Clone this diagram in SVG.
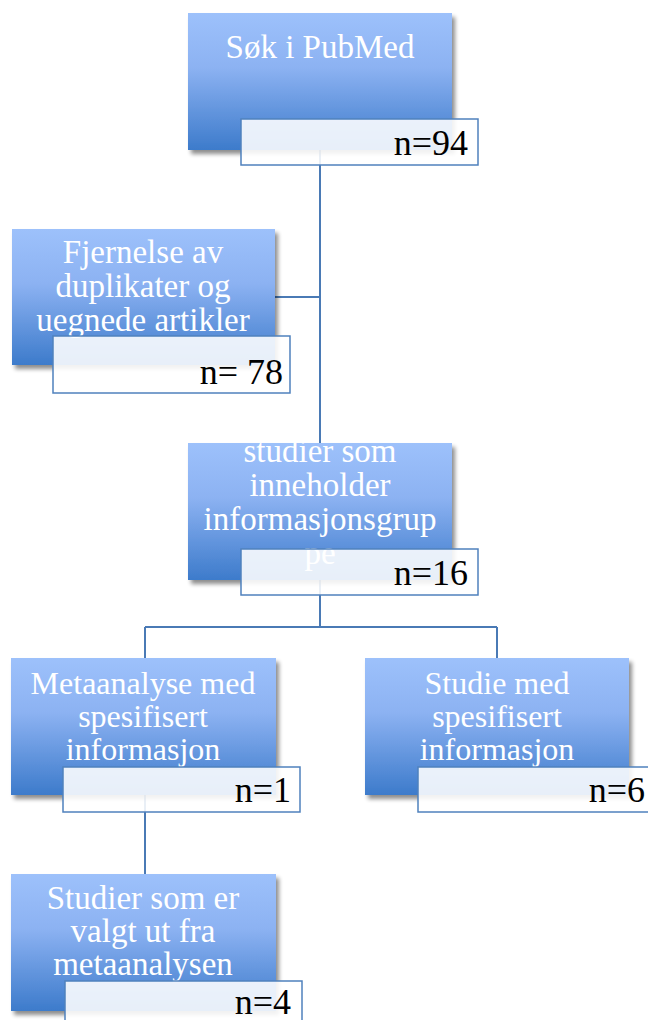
<svg xmlns="http://www.w3.org/2000/svg" width="648" height="1020" viewBox="0 0 648 1020">
<defs>
<linearGradient id="g" x1="0" y1="0" x2="0" y2="1">
<stop offset="0" stop-color="#9dc1fb"/>
<stop offset="0.4" stop-color="#8cb2f2"/>
<stop offset="1" stop-color="#3d7bcb"/>
</linearGradient>
<filter id="sh" x="-10%" y="-10%" width="125%" height="125%">
<feGaussianBlur in="SourceAlpha" stdDeviation="2"/>
<feOffset dx="3" dy="4"/>
<feComponentTransfer><feFuncA type="linear" slope="0.45"/></feComponentTransfer>
<feMerge><feMergeNode/><feMergeNode in="SourceGraphic"/></feMerge>
</filter>
</defs>
<style>
.box{fill:url(#g);filter:url(#sh)}
.cnt{fill:#ffffff;fill-opacity:0.88;stroke:#4f81bd;stroke-width:1.5}
.t{font-family:"Liberation Serif","DejaVu Serif",serif;font-size:33px;fill:#ffffff;text-anchor:middle}
.s{font-size:32px}
.n{font-family:"Liberation Serif","DejaVu Serif",serif;font-size:36px;fill:#000000;text-anchor:end}
.c{fill:none;stroke:#4a7ab5;stroke-width:2}
</style>
<rect width="648" height="1020" fill="#ffffff"/>
<g id="connectors">
<path class="c" d="M320 150 V443"/>
<path class="c" d="M275 297 H320"/>
<path class="c" d="M320 580 V627 M145 627 H497 M145 627 V658 M497 627 V658"/>
<path class="c" d="M145 795 V875"/>
</g>
<g id="node1">
<rect class="box" x="188" y="13" width="264" height="137"/>
<text class="t" x="320" y="58">Søk i PubMed</text>
<rect class="cnt" x="241" y="119" width="237" height="46"/>
<text class="n" x="468" y="155">n=94</text>
</g>
<g id="node2">
<rect class="box" x="12" y="229" width="263" height="136"/>
<text class="t" x="143" y="263">Fjernelse av</text>
<text class="t" x="143" y="297">duplikater og</text>
<text class="t" x="143" y="331">uegnede artikler</text>
<rect class="cnt" x="53" y="336" width="237" height="57"/>
<text class="n" x="283" y="384">n= 78</text>
</g>
<g id="node3">
<rect class="box" x="188" y="443" width="264" height="137"/>
<text class="t" x="320" y="462">studier som</text>
<text class="t" x="320" y="496">inneholder</text>
<text class="t" x="320" y="530">informasjonsgrup</text>
<text class="t" x="320" y="564">pe</text>
<rect class="cnt" x="241" y="549" width="237" height="46"/>
<text class="n" x="468" y="585">n=16</text>
</g>
<g id="node4">
<rect class="box" x="11" y="658" width="265" height="137"/>
<text class="t s" x="143" y="694">Metaanalyse med</text>
<text class="t s" x="143" y="727">spesifisert</text>
<text class="t s" x="143" y="760">informasjon</text>
<rect class="cnt" x="63" y="767" width="237" height="45"/>
<text class="n" x="291" y="802">n=1</text>
</g>
<g id="node5">
<rect class="box" x="365" y="658" width="264" height="137"/>
<text class="t s" x="497" y="694">Studie med</text>
<text class="t s" x="497" y="727">spesifisert</text>
<text class="t s" x="497" y="760">informasjon</text>
<rect class="cnt" x="418" y="767" width="237" height="45"/>
<text class="n" x="645" y="802">n=6</text>
</g>
<g id="node6">
<rect class="box" x="11" y="874" width="265" height="137"/>
<text class="t" x="143" y="909">Studier som er</text>
<text class="t" x="143" y="942">valgt ut fra</text>
<text class="t" x="143" y="975">metaanalysen</text>
<rect class="cnt" x="65" y="981" width="237" height="50"/>
<text class="n" x="291" y="1014">n=4</text>
</g>
</svg>
